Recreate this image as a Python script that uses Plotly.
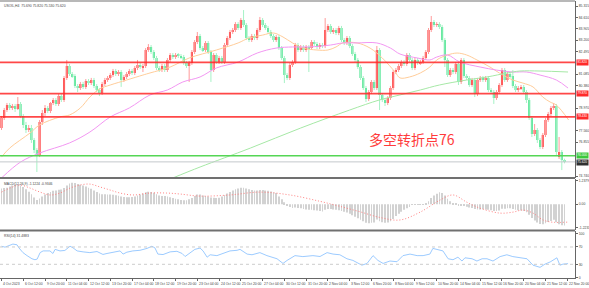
import plotly.graph_objects as go

# ---------------- data ----------------
open_ = [77.73, 78.35, 78.85, 79.16, 78.98, 79.10, 78.91, 79.23, 78.48, 77.92,
         77.61, 77.73, 76.98, 76.36, 76.05, 78.11, 78.66, 78.98, 78.79, 79.29,
         79.48, 79.23, 79.72, 79.48, 80.85, 81.59, 81.09, 80.97, 80.35, 80.22,
         80.47, 80.29, 80.66, 80.53, 80.72, 80.35, 80.10, 79.91, 80.47, 80.72,
         80.85, 81.03, 81.28, 81.09, 81.22, 80.72, 80.91, 81.09, 81.28, 81.16,
         81.47, 81.66, 81.53, 81.59, 82.59, 82.78, 82.47, 82.09, 81.47, 81.34,
         81.59, 81.34, 81.97, 82.28, 82.15, 82.28, 82.22, 82.15, 81.78, 81.59,
         81.78, 82.47, 83.09, 83.46, 82.71, 82.59, 83.03, 82.47, 81.34, 82.28,
         81.84, 82.09, 81.84, 82.90, 83.34, 83.71, 83.84, 84.21, 83.96, 84.46,
         84.15, 83.34, 83.21, 83.46, 83.34, 83.84, 84.46, 84.15, 83.96, 83.71,
         83.46, 83.21, 83.40, 82.71, 82.09, 81.03, 80.85, 81.66, 81.84, 82.90,
         82.59, 82.78, 82.59, 82.78, 82.71, 83.09, 82.96, 82.78, 82.90, 82.84,
         83.84, 84.09, 83.71, 83.84, 83.65, 83.96, 83.21, 83.03, 83.34, 82.84,
         82.34, 81.97, 81.53, 80.85, 80.22, 79.54, 79.97, 80.60, 80.22, 82.59,
         79.79, 79.48, 79.29, 79.60, 80.22, 81.22, 81.34, 81.59, 81.84, 81.72,
         82.28, 81.97, 81.47, 81.97, 81.78, 81.84, 82.09, 82.47, 83.84, 84.33,
         84.15, 84.21, 84.02, 83.21, 81.97, 81.03, 81.34, 81.22, 81.72, 80.60,
         81.97, 80.97, 80.85, 80.41, 80.72, 79.85, 80.72, 80.85, 80.72, 80.85,
         80.10, 79.97, 79.60, 79.97, 80.41, 81.34, 80.72, 81.09, 80.97, 80.35,
         80.10, 80.22, 80.29, 79.97, 79.48, 78.35, 77.36, 77.61, 76.98, 76.55,
         77.30, 78.23, 78.60, 78.98, 79.10, 75.92, 76.23, 75.69]
high = [78.48, 78.98, 79.29, 79.29, 79.23, 79.23, 79.66, 79.35, 78.60, 78.11,
        77.92, 77.92, 77.11, 76.48, 78.23, 78.85, 79.16, 79.10, 79.35, 79.60,
        79.60, 79.85, 79.85, 80.97, 81.97, 81.72, 81.22, 81.09, 80.47, 80.60,
        80.60, 80.78, 80.78, 80.85, 80.85, 80.47, 80.22, 80.60, 80.85, 80.97,
        81.16, 81.41, 81.41, 81.34, 81.34, 81.03, 81.22, 81.41, 81.41, 81.59,
        81.97, 81.78, 81.72, 82.71, 82.96, 82.90, 82.59, 82.22, 81.59, 81.72,
        81.72, 82.09, 82.40, 82.40, 82.40, 82.40, 82.34, 82.28, 81.91, 81.91,
        82.59, 83.21, 83.71, 83.59, 82.84, 83.15, 83.15, 82.59, 82.40, 82.40,
        82.22, 82.22, 83.03, 83.46, 83.84, 83.96, 84.33, 84.33, 84.58, 85.08,
        84.27, 83.46, 83.59, 83.59, 83.96, 84.65, 84.58, 84.27, 84.09, 83.84,
        83.59, 83.52, 83.52, 82.84, 82.22, 81.16, 81.78, 81.97, 83.03, 83.03,
        82.90, 82.90, 82.90, 82.90, 83.21, 83.21, 83.09, 83.03, 83.03, 84.58,
        84.21, 84.21, 83.96, 83.96, 84.09, 84.09, 83.34, 83.46, 83.46, 82.96,
        82.47, 82.09, 81.66, 80.97, 80.35, 80.10, 80.72, 80.72, 82.84, 82.71,
        79.91, 79.60, 79.72, 80.35, 81.34, 81.47, 81.72, 81.97, 81.97, 82.40,
        82.40, 82.09, 82.09, 82.09, 81.97, 82.22, 82.59, 83.96, 84.71, 84.46,
        84.33, 84.33, 84.15, 83.34, 82.09, 81.47, 81.47, 81.84, 81.84, 82.09,
        82.09, 81.09, 80.97, 80.85, 80.85, 80.85, 80.97, 80.97, 80.97, 80.97,
        80.22, 80.10, 80.10, 80.53, 81.47, 81.47, 81.22, 81.22, 81.34, 80.47,
        80.35, 80.41, 80.41, 80.10, 79.60, 78.48, 77.98, 77.73, 77.11, 77.42,
        78.35, 78.73, 79.10, 79.29, 79.23, 77.17, 76.36, 75.82]
low = [77.61, 78.23, 78.73, 78.85, 78.85, 78.73, 78.85, 78.35, 77.73, 77.42,
       77.48, 76.80, 76.17, 74.99, 75.92, 77.92, 78.48, 78.66, 78.66, 79.16,
       79.10, 79.10, 79.35, 79.35, 80.72, 80.97, 80.85, 80.22, 79.97, 80.10,
       80.16, 80.16, 80.41, 80.41, 80.22, 79.97, 79.72, 79.79, 80.35, 80.60,
       80.72, 80.91, 80.97, 80.97, 80.29, 80.60, 80.78, 80.97, 81.03, 81.03,
       81.34, 81.41, 81.22, 81.47, 82.47, 82.34, 81.97, 81.34, 81.22, 81.22,
       81.22, 81.22, 81.84, 82.03, 82.03, 82.09, 82.03, 81.66, 81.47, 80.60,
       81.66, 82.34, 82.96, 82.59, 82.47, 82.47, 82.34, 80.60, 81.22, 81.72,
       81.72, 81.72, 81.72, 82.78, 83.21, 83.59, 83.71, 83.84, 83.84, 84.02,
       83.21, 83.09, 83.09, 83.21, 83.21, 83.71, 84.02, 83.84, 83.59, 83.34,
       83.09, 83.09, 82.59, 81.97, 80.53, 80.72, 80.72, 81.53, 81.72, 82.47,
       82.47, 82.47, 82.47, 81.22, 82.59, 82.84, 82.65, 82.65, 82.71, 82.71,
       83.71, 83.59, 83.59, 83.52, 83.52, 83.09, 82.90, 82.90, 82.71, 82.22,
       81.84, 81.41, 80.72, 80.10, 79.35, 79.41, 79.85, 80.10, 80.10, 78.85,
       79.35, 79.10, 79.16, 79.48, 80.10, 81.09, 81.22, 81.47, 81.59, 81.59,
       81.84, 81.34, 81.34, 81.66, 81.66, 81.72, 81.97, 82.34, 83.71, 84.02,
       84.02, 83.90, 83.09, 81.53, 80.91, 80.91, 81.09, 81.09, 80.41, 80.47,
       80.85, 80.72, 80.29, 80.29, 79.66, 79.72, 80.60, 80.60, 80.60, 79.97,
       79.85, 79.23, 79.48, 79.85, 80.29, 80.60, 80.60, 80.85, 80.22, 79.97,
       79.97, 80.10, 79.85, 79.29, 78.23, 77.17, 77.23, 76.80, 76.42, 76.42,
       77.17, 78.11, 78.48, 78.85, 76.05, 75.80, 75.11, 75.53]
close = [78.35, 78.85, 79.16, 78.98, 79.10, 78.91, 79.23, 78.48, 77.92, 77.61,
         77.73, 76.98, 76.36, 76.05, 78.11, 78.66, 78.98, 78.79, 79.29, 79.48,
         79.23, 79.72, 79.48, 80.85, 81.59, 81.09, 80.97, 80.35, 80.22, 80.47,
         80.29, 80.66, 80.53, 80.72, 80.35, 80.10, 79.91, 80.47, 80.72, 80.85,
         81.03, 81.28, 81.09, 81.22, 80.72, 80.91, 81.09, 81.28, 81.16, 81.47,
         81.66, 81.53, 81.59, 82.59, 82.78, 82.47, 82.09, 81.47, 81.34, 81.59,
         81.34, 81.97, 82.28, 82.15, 82.28, 82.22, 82.15, 81.78, 81.59, 81.78,
         82.47, 83.09, 83.46, 82.71, 82.59, 83.03, 82.47, 81.34, 82.28, 81.84,
         82.09, 81.84, 82.90, 83.34, 83.71, 83.84, 84.21, 83.96, 84.46, 84.15,
         83.34, 83.21, 83.46, 83.34, 83.84, 84.46, 84.15, 83.96, 83.71, 83.46,
         83.21, 83.40, 82.71, 82.09, 81.03, 80.85, 81.66, 81.84, 82.90, 82.59,
         82.78, 82.59, 82.78, 82.71, 83.09, 82.96, 82.78, 82.90, 82.84, 83.84,
         84.09, 83.71, 83.84, 83.65, 83.96, 83.21, 83.03, 83.34, 82.84, 82.34,
         81.97, 81.53, 80.85, 80.22, 79.54, 79.97, 80.60, 80.22, 82.59, 79.79,
         79.48, 79.29, 79.60, 80.22, 81.22, 81.34, 81.59, 81.84, 81.72, 82.28,
         81.97, 81.47, 81.97, 81.78, 81.84, 82.09, 82.47, 83.84, 84.33, 84.15,
         84.21, 84.02, 83.21, 81.97, 81.03, 81.34, 81.22, 81.72, 80.60, 81.97,
         80.97, 80.85, 80.41, 80.72, 79.85, 80.72, 80.85, 80.72, 80.85, 80.10,
         79.97, 79.60, 79.97, 80.41, 81.34, 80.72, 81.09, 80.97, 80.35, 80.10,
         80.22, 80.29, 79.97, 79.48, 78.35, 77.36, 77.61, 76.98, 76.55, 77.30,
         78.23, 78.60, 78.98, 79.10, 76.23, 76.23, 75.74, 75.62]

# moving averages (bar index, price)
ma_fast_idx = [0, 3, 10.5, 14, 21.5, 25, 29, 32.5, 36, 40, 46, 52, 54.6, 62, 69, 79, 87, 91, 96, 100,
               103.5, 107, 111, 116, 120, 123, 125.5, 130.7, 135.5, 140, 144.7, 146.5, 150, 154,
               157.5, 160, 164, 167.5, 171, 174.8, 179.6, 183, 188, 191.7, 195.4, 199, 201.7, 204, 208.5]
ma_fast_val = [75.92, 76.48, 77.42, 77.92, 78.42, 78.54, 78.98, 79.66, 80.16, 80.41, 80.72, 81.03, 81.16,
               81.53, 82.09, 82.59, 83.03, 83.34, 83.52, 83.65, 83.40, 83.03, 82.71, 82.59, 82.59, 82.78,
               83.03, 83.03, 82.71, 82.09, 81.22, 80.85, 80.91, 81.16, 81.53, 81.97, 82.28, 82.40, 82.28,
               81.97, 81.53, 81.16, 80.72, 80.53, 80.29, 79.66, 79.35, 79.16, 78.23]
ma_mid_idx = [0, 7, 14, 25, 32.5, 40, 47, 54.6, 61, 66.7, 73, 79, 87, 94, 101, 107, 113, 121, 125.5,
              130.7, 138, 143, 146.5, 153, 157.5, 160, 164, 168.5, 176, 182, 188, 193, 198, 204, 208.3]
ma_mid_val = [74.62, 75.61, 76.17, 76.80, 77.48, 78.42, 78.98, 79.79, 80.10, 80.60, 80.91, 81.47, 81.84,
              82.40, 82.71, 82.78, 82.78, 82.90, 83.03, 83.03, 83.03, 82.71, 82.34, 82.09, 81.97, 82.15,
              82.28, 81.84, 81.53, 81.34, 81.22, 81.22, 81.03, 80.72, 80.22]
ma_slow_idx = [63, 73, 91.5, 110, 128, 139, 146.5, 154, 161, 171, 178.5, 186, 190.6, 198, 208.3]
ma_slow_val = [74.62, 75.30, 76.48, 77.73, 78.85, 79.48, 79.79, 80.10, 80.41, 80.72, 80.91, 81.16,
               81.28, 81.28, 81.22]

# horizontal levels
red_levels = [81.82, 79.87, 78.43]
pivot_level = 76.00
last_price = 75.62

# MACD histogram (one per bar) and signal line
macd_hist = [0.82, 0.84, 0.86, 0.92, 0.97, 1.00, 1.00, 0.98, 0.90, 0.78,
             0.65, 0.52, 0.35, 0.22, 0.30, 0.40, 0.50, 0.58, 0.63, 0.70,
             0.72, 0.75, 0.76, 0.85, 0.98, 1.08, 1.12, 1.10, 1.06, 1.02,
             0.98, 0.92, 0.86, 0.80, 0.72, 0.64, 0.56, 0.52, 0.52, 0.50,
             0.50, 0.49, 0.47, 0.44, 0.40, 0.37, 0.36, 0.36, 0.37, 0.40,
             0.45, 0.50, 0.56, 0.62, 0.65, 0.64, 0.60, 0.52, 0.45, 0.42,
             0.42, 0.40, 0.36, 0.32, 0.28, 0.25, 0.22, 0.20, 0.20, 0.25,
             0.32, 0.42, 0.50, 0.50, 0.45, 0.42, 0.40, 0.35, 0.33, 0.32,
             0.34, 0.40, 0.48, 0.56, 0.64, 0.72, 0.78, 0.82, 0.86, 0.86,
             0.82, 0.78, 0.74, 0.72, 0.72, 0.74, 0.74, 0.72, 0.70, 0.66,
             0.62, 0.58, 0.40, 0.25, 0.10, -0.05, -0.15, -0.20, -0.18, -0.20,
             -0.22, -0.25, -0.28, -0.30, -0.30, -0.32, -0.34, -0.36, -0.38, -0.30,
             -0.26, -0.26, -0.28, -0.30, -0.32, -0.36, -0.40, -0.44, -0.50, -0.58,
             -0.66, -0.74, -0.82, -0.90, -0.98, -1.00, -0.98, -0.96, -0.80, -0.90,
             -0.95, -0.98, -0.96, -0.90, -0.78, -0.62, -0.50, -0.40, -0.30, -0.22,
             -0.15, -0.02, -0.04, -0.04, -0.04, -0.03, 0.02, 0.15, 0.32, 0.45,
             0.55, 0.62, 0.58, 0.45, 0.28, 0.15, 0.06, 0.02, -0.05, -0.06,
             -0.10, -0.14, -0.18, -0.20, -0.26, -0.28, -0.28, -0.27, -0.28, -0.30,
             -0.32, -0.36, -0.36, -0.34, -0.24, -0.24, -0.22, -0.22, -0.26, -0.30,
             -0.32, -0.34, -0.36, -0.42, -0.55, -0.72, -0.86, -0.96, -1.04, -1.06,
             -1.00, -0.94, -0.88, -0.82, -0.95, -1.06, -1.10, -1.12]
signal_idx = [0, 3.1, 6.8, 10.5, 14.2, 17.8, 21.5, 25.2, 28.9, 32.5, 36.2, 39.9, 43.6, 48.3, 54.6,
              60.8, 65.6, 73, 84, 95, 106, 117, 124, 131.8, 139.2, 146.5, 153.9, 161.2, 166, 171.1,
              175.9, 183.3, 188, 191.7, 195.4, 199.1, 202.8, 208.3]
signal_val = [0.63, 0.84, 1.0, 0.84, 0.63, 0.48, 0.58, 0.84, 1.0, 1.05, 0.9, 0.74, 0.58, 0.48, 0.58,
              0.58, 0.53, 0.42, 0.48, 0.63, 0.48, 0.15, -0.1, -0.4, -0.7, -0.83, -0.42, 0.21, 0.48, 0.1,
              -0.21, -0.47, -0.42, -0.31, -0.47, -0.83, -0.95, -0.94]

# RSI(14)
rsi_idx = [0, 1.3, 4.2, 5.7, 6.4, 7.9, 9.4, 11.2, 12.3, 13.1, 14.2, 15.3, 17.8, 18.9, 19.7, 21.5, 23.3,
           24.1, 25.2, 26.3, 27.8, 30, 32.5, 35.1, 37.3, 38.8, 41, 43.6, 44.7, 46.1, 48.3, 50.9, 53.5,
           55.3, 56.4, 57.5, 59.4, 62, 64.5, 66.4, 67.5, 69.3, 71.1, 73, 74.1, 75.6, 76.7, 79.2, 81.4,
           84, 86.6, 87.7, 90.3, 92.1, 95, 97.6, 101.3, 103.5, 105, 107.9, 110.8, 114.5, 117.1, 119.7,
           121.9, 124.4, 127, 129.2, 132.5, 134.4, 136.6, 138.4, 140.3, 142.8, 145.4, 147.6, 150.2,
           152.8, 155, 157.5, 158.6, 160, 162.3, 164.2, 166, 167.8, 169.3, 170.4, 173, 174.8, 176.7,
           178.5, 180.7, 183.3, 185.8, 188, 190.6, 193.2, 195.4, 198, 199.8, 201.7, 204.2, 205.3,
           206.4, 208.3]
rsi_val = [71.7, 69.6, 76.7, 75.0, 68.0, 57.0, 50.0, 42.8, 40.6, 42.0, 57.0, 60.9, 60.9, 55.0, 64.5,
           60.9, 62.0, 66.7, 71.7, 68.0, 60.9, 58.7, 57.0, 59.5, 52.8, 55.0, 57.0, 60.9, 53.6, 58.0,
           60.9, 62.3, 66.7, 71.7, 68.0, 53.6, 52.5, 58.7, 60.0, 55.0, 48.0, 57.0, 64.5, 67.5, 60.9,
           46.4, 52.0, 50.0, 55.0, 60.9, 62.3, 64.5, 53.6, 52.0, 57.0, 50.0, 42.8, 32.0, 39.0, 50.0,
           47.8, 50.0, 48.0, 57.0, 53.6, 52.0, 42.8, 39.0, 28.0, 32.0, 50.0, 39.0, 32.0, 37.6, 36.0,
           50.0, 53.6, 50.0, 50.0, 53.6, 66.7, 64.5, 60.9, 42.8, 40.6, 46.4, 37.6, 45.0, 42.8, 37.6,
           42.8, 42.8, 37.6, 47.8, 52.0, 47.8, 45.0, 42.8, 28.0, 23.0, 30.4, 35.4, 45.0, 28.0, 30.4,
           31.5]

# price-scale labels that are not covered by the level boxes
price_ticks = [74.740, 76.855, 77.560, 78.970, 80.380, 81.085, 82.495, 83.200, 83.905, 84.610, 85.315]
time_label_idx = [0, 8, 16, 24, 32, 40, 48, 56, 64, 72, 80, 88, 96, 104, 112, 120, 128, 136, 144,
                  152, 160, 168, 176, 184, 192, 200, 208]
time_labels = ["4 Oct 2023", "6 Oct 12:00", "9 Oct 20:00", "11 Oct 04:00", "12 Oct 12:00",
               "13 Oct 20:00", "17 Oct 04:00", "18 Oct 12:00", "19 Oct 20:00", "23 Oct 04:00",
               "24 Oct 12:00", "25 Oct 20:00", "27 Oct 04:00", "30 Oct 12:00", "31 Oct 20:00",
               "2 Nov 04:00", "3 Nov 12:00", "6 Nov 20:00", "8 Nov 04:00", "9 Nov 12:00",
               "10 Nov 20:00", "14 Nov 04:00", "15 Nov 12:00", "16 Nov 20:00", "20 Nov 04:00",
               "21 Nov 12:00", "22 Nov 20:00"]

# ---------------- figure ----------------
RED = "#ff1f1f"
GRN = "#2fe07f"
SMALL = dict(family="Liberation Sans, Arial", size=3.4, color="#444444")
BOXFONT = dict(family="Liberation Sans, Arial", size=3.2, color="white")

fig = go.Figure()
idx = list(range(len(close)))
up = [i for i in idx if close[i] >= open_[i]]
dn = [i for i in idx if close[i] < open_[i]]

def wick_xy(sel):
    xs, ys = [], []
    for i in sel:
        xs += [i, i, None]
        ys += [low[i], high[i], None]
    return xs, ys

for sel, col in ((up, "#ff9a9a"), (dn, "#a6f2c6")):
    wx, wy = wick_xy(sel)
    fig.add_trace(go.Scatter(x=wx, y=wy, mode="lines", line=dict(color=col, width=1),
                             hoverinfo="skip", xaxis="x", yaxis="y"))

fig.add_trace(go.Bar(x=up, base=[open_[i] for i in up], y=[close[i] - open_[i] for i in up],
                     width=0.74, marker=dict(color=RED, line=dict(width=0)), xaxis="x", yaxis="y"))
fig.add_trace(go.Bar(x=dn, base=[close[i] for i in dn], y=[open_[i] - close[i] for i in dn],
                     width=0.74, marker=dict(color=GRN, line=dict(width=0)), xaxis="x", yaxis="y"))

fig.add_trace(go.Scatter(x=ma_fast_idx, y=ma_fast_val, mode="lines", line=dict(color="#ffcc99", width=1, shape="spline"), xaxis="x", yaxis="y"))
fig.add_trace(go.Scatter(x=ma_mid_idx, y=ma_mid_val, mode="lines", line=dict(color="#f297f2", width=1, shape="spline"), xaxis="x", yaxis="y"))
fig.add_trace(go.Scatter(x=ma_slow_idx, y=ma_slow_val, mode="lines", line=dict(color="#a6e8a6", width=1, shape="spline"), xaxis="x", yaxis="y"))

# MACD
fig.add_trace(go.Bar(x=idx, y=macd_hist, width=0.3, marker=dict(color="#d2d2d2", line=dict(width=0)), xaxis="x", yaxis="y2"))
fig.add_trace(go.Scatter(x=signal_idx, y=signal_val, mode="lines", line=dict(color="#ff8080", width=1, dash="1px,2px", shape="spline"), xaxis="x", yaxis="y2"))

# RSI
fig.add_trace(go.Scatter(x=rsi_idx, y=rsi_val, mode="lines", line=dict(color="#9ccbff", width=1), xaxis="x", yaxis="y3"))

shapes = []
for lv in red_levels:
    shapes.append(dict(type="line", xref="paper", x0=0, x1=1, yref="y", y0=lv, y1=lv, line=dict(color="rgba(255,40,40,0.85)", width=1.8)))
shapes.append(dict(type="line", xref="paper", x0=0, x1=1, yref="y", y0=pivot_level, y1=pivot_level, line=dict(color="#55d655", width=1.5)))
shapes.append(dict(type="line", xref="paper", x0=0, x1=1, yref="y", y0=last_price, y1=last_price, line=dict(color="#c4c8cc", width=1)))
for lv in (70, 30):
    shapes.append(dict(type="line", xref="paper", x0=0, x1=1, yref="y3", y0=lv, y1=lv, line=dict(color="#cccccc", width=1, dash="dot")))
# pane frames / separators
shapes.append(dict(type="line", xref="paper", yref="paper", x0=0, x1=1, y0=0.9964, y1=0.9964, line=dict(color="#a0a0a0", width=1.5)))
shapes.append(dict(type="line", xref="paper", yref="paper", x0=0, x1=1, y0=0.3597, y1=0.3597, line=dict(color="#707070", width=2)))
shapes.append(dict(type="line", xref="paper", yref="paper", x0=0, x1=1, y0=0.1709, y1=0.1709, line=dict(color="#707070", width=2)))

ann = []
for lv in red_levels:
    ann.append(dict(xref="paper", x=1, xanchor="left", xshift=1, yref="y", y=lv, text=f"{lv:.3f}", showarrow=False,
                    bgcolor="#ff2a2a", font=BOXFONT, borderpad=0.4))
ann.append(dict(xref="paper", x=1, xanchor="left", xshift=1, yref="y", y=pivot_level, yshift=0.5, text=f"{pivot_level:.3f}", showarrow=False,
                bgcolor="#3cc83c", font=BOXFONT, borderpad=0.3))
ann.append(dict(xref="paper", x=1, xanchor="left", xshift=1, yref="y", y=last_price, yshift=-0.5, text=f"{last_price:.3f}", showarrow=False,
                bgcolor="#303030", font=BOXFONT, borderpad=0.3))
ann.append(dict(xref="paper", x=0.004, xanchor="left", yref="paper", y=0.994, yanchor="top",
                text="USOIL,H4  75.690 75.820 75.530 75.620", showarrow=False, font=SMALL))
ann.append(dict(xref="paper", x=0.004, xanchor="left", yref="paper", y=0.352, yanchor="top",
                text="MACD(12,26,9) -1.1224 -0.9346", showarrow=False, font=SMALL))
ann.append(dict(xref="paper", x=0.004, xanchor="left", yref="paper", y=0.166, yanchor="top",
                text="RSI(14) 31.4883", showarrow=False, font=SMALL))
ann.append(dict(xref="x", x=134.4, xanchor="left", yref="y", y=77.04, yanchor="middle",
                text="多空转折点76", showarrow=False,
                font=dict(family="Noto Sans CJK SC", size=14, color="#ff3b3b")))
for xi, t in zip(time_label_idx, time_labels):
    ann.append(dict(xref="x", x=xi, xanchor="left", xshift=-0.5, yref="paper", y=0, yanchor="top", yshift=-1.5,
                    text=t, showarrow=False, font=SMALL))

axis_common = dict(showgrid=False, zeroline=False, side="right", anchor="x", ticks="outside", ticklen=2,
                   tickcolor="#666", showline=True, linecolor="#666", linewidth=1, tickfont=SMALL)

fig.update_layout(
    width=589, height=288, margin=dict(l=0, r=14, t=0, b=10),
    paper_bgcolor="white", plot_bgcolor="white", showlegend=False, barmode="overlay",
    xaxis=dict(range=[-0.55, 210.85], showgrid=False, zeroline=False, anchor="y3", showticklabels=False,
               ticks="outside", ticklen=2, tickcolor="#666", tickvals=time_label_idx,
               showline=True, linecolor="#666", linewidth=1),
    yaxis=dict(domain=[0.3615, 0.9964], range=[74.647, 85.643], tickvals=price_ticks, tickformat=".3f", **axis_common),
    yaxis2=dict(domain=[0.1727, 0.3561], range=[-1.354, 1.316], tickvals=[1.2379, 0, -1.2233],
                ticktext=["1.2379", "0.00", "-1.2233"], **axis_common),
    yaxis3=dict(domain=[0, 0.1691], range=[-1.6, 106.9], tickvals=[0, 30, 70, 100], **axis_common),
    shapes=shapes, annotations=ann,
)

fig.write_html("out.html")
